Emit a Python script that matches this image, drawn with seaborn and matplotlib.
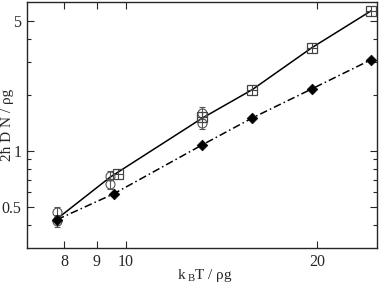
import matplotlib
matplotlib.use("Agg")
import matplotlib.pyplot as plt
import matplotlib.ticker as mticker
import seaborn as sns
import pandas as pd

# solid curve (fit through the square points)
fit_T = [7.8, 9.45, 13.2, 15.8, 19.6, 24.3]
fit_D = [0.43, 0.72, 1.50, 2.13, 3.58, 5.66]

# open circles with error bars
circ_T = [7.8, 7.8, 9.45, 9.45, 13.2, 13.2]
circ_D = [0.47, 0.42, 0.734, 0.665, 1.60, 1.41]
circ_err = [0.03, 0.03, 0.04, 0.04, 0.11, 0.10]

# boxed squares
sq_T = [9.71, 13.2, 15.8, 19.6, 24.3]
sq_D = [0.752, 1.52, 2.13, 3.58, 5.66]

# filled diamonds on dash-dot line
dia_T = [7.8, 9.58, 13.2, 15.8, 19.6, 24.3]
dia_D = [0.426, 0.587, 1.077, 1.50, 2.15, 3.09]

x_ticks = [8, 9, 10, 20]
y_ticks = [0.5, 1, 5]

sns.set_style("ticks")
plt.rcParams["font.family"] = ["Liberation Serif", "DejaVu Serif"]
plt.rcParams["mathtext.fontset"] = "custom"
plt.rcParams["mathtext.rm"] = "Liberation Serif"
plt.rcParams["mathtext.it"] = "Liberation Serif:italic"

fig = plt.figure(figsize=(3.82, 2.83), dpi=100)
ax = fig.add_axes([0.0707, 0.1237, 0.916, 0.869])
ax.set_xscale("log")
ax.set_yscale("log")

fit = pd.DataFrame({"T": fit_T, "D": fit_D})
dia = pd.DataFrame({"T": dia_T, "D": dia_D})

sns.lineplot(data=fit, x="T", y="D", ax=ax, color="black", lw=1.1, sort=False)
sns.lineplot(data=dia, x="T", y="D", ax=ax, color="black", lw=1.1, sort=False,
             linestyle=(0, (5, 2, 1, 2)))

ax.errorbar(circ_T, circ_D, yerr=circ_err, fmt="o", mfc="none", mec="#555555",
            ecolor="#555555", ms=6.5, mew=0.8, elinewidth=0.8, capsize=2.5, zorder=3)
ax.plot(sq_T, sq_D, "s", mfc="none", mec="#444444", ms=6.5, mew=0.9, zorder=4)
ax.plot(sq_T, sq_D, "+", color="#444444", ms=6.5, mew=0.8, zorder=4)
sns.scatterplot(x=dia_T, y=dia_D, ax=ax, marker="D", color="black", s=30,
                edgecolor="black", zorder=5)

ax.set_xlim(7.0, 24.8)
ax.set_ylim(0.3, 6.3)

ax.xaxis.set_major_locator(mticker.FixedLocator(x_ticks))
ax.xaxis.set_major_formatter(mticker.FixedFormatter([str(t) for t in x_ticks]))
ax.xaxis.set_minor_locator(mticker.NullLocator())
ax.yaxis.set_major_locator(mticker.FixedLocator(y_ticks))
ax.yaxis.set_major_formatter(mticker.FixedFormatter(["0.5", "1", "5"]))
ax.yaxis.set_minor_locator(mticker.FixedLocator([0.4, 0.6, 0.7, 0.8, 0.9, 2, 3, 4]))
ax.yaxis.set_minor_formatter(mticker.NullFormatter())

ax.tick_params(which="both", direction="in", top=True, right=True,
               labelsize=11.5, width=0.8)
ax.tick_params(which="major", length=5, pad=4)
ax.tick_params(which="minor", length=3)
for s in ax.spines.values():
    s.set_linewidth(1.0)

ax.set_xlabel(r"k$_{\mathrm{\ B}}$T / ρg", fontsize=11)
ax.set_ylabel("2ħ D N / ρg", fontsize=11)
ax.xaxis.set_label_coords(0.508, -0.076)
ax.yaxis.set_label_coords(-0.036, 0.5)

fig.savefig("out.png", dpi=100)
